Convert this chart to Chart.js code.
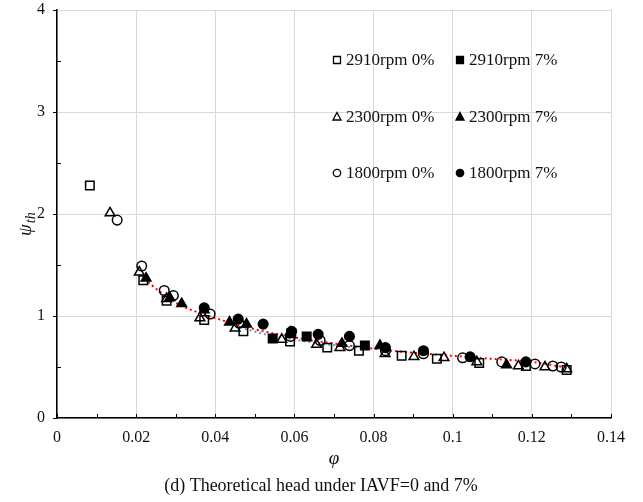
<!DOCTYPE html>
<html>
<head>
<meta charset="utf-8">
<script src="https://cdn.jsdelivr.net/npm/chart.js@4"></script>
<style>
  html, body { margin: 0; padding: 0; background: #fff; }
  #wrap { width: 643px; height: 502px; }
</style>
</head>
<body>
<div id="wrap"><canvas id="headChart" width="643" height="502"></canvas></div>
<script>
// datos (phi, psi_th)
const seriesNames = ['2910rpm 0%', '2910rpm 7%', '2300rpm 0%', '2300rpm 7%', '1800rpm 0%', '1800rpm 7%'];

const phi2910_0 = [0.0083, 0.0218, 0.0277, 0.0372, 0.0471, 0.0589, 0.0683, 0.0763, 0.0871, 0.0960, 0.1067, 0.1185, 0.1288];
const psi2910_0 = [2.28, 1.35, 1.15, 0.96, 0.85, 0.75, 0.69, 0.66, 0.61, 0.58, 0.54, 0.51, 0.47];

const phi2910_7 = [0.0545, 0.0592, 0.0631, 0.0778];
const psi2910_7 = [0.78, 0.83, 0.80, 0.71];

const phi2300_0 = [0.0134, 0.0208, 0.0277, 0.0361, 0.0450, 0.0568, 0.0656, 0.0715, 0.0829, 0.0902, 0.0978, 0.1061, 0.1166, 0.1233, 0.1288];
const psi2300_0 = [2.01, 1.43, 1.17, 0.98, 0.88, 0.77, 0.72, 0.69, 0.63, 0.60, 0.59, 0.55, 0.51, 0.50, 0.48];

const phi2300_7 = [0.0225, 0.0285, 0.0315, 0.0372, 0.0436, 0.0479, 0.0589, 0.0720, 0.0816, 0.1136];
const psi2300_7 = [1.37, 1.18, 1.12, 1.06, 0.94, 0.92, 0.84, 0.73, 0.71, 0.52];

const phi1800_0 = [0.0152, 0.0214, 0.0271, 0.0294, 0.0387, 0.0460, 0.0590, 0.0665, 0.0739, 0.0830, 0.0926, 0.1025, 0.1124, 0.1208, 0.1253, 0.1274];
const psi1800_0 = [1.94, 1.49, 1.25, 1.20, 1.02, 0.93, 0.80, 0.76, 0.71, 0.66, 0.63, 0.59, 0.55, 0.53, 0.51, 0.50];

const phi1800_7 = [0.0372, 0.0458, 0.0521, 0.0593, 0.0660, 0.0739, 0.0830, 0.0926, 0.1044, 0.1185];
const psi1800_7 = [1.08, 0.97, 0.92, 0.85, 0.82, 0.80, 0.69, 0.66, 0.60, 0.55];

// líneas de tendencia punteadas
const trendRedPhi = [0.022, 0.030, 0.040, 0.050, 0.060, 0.070, 0.080, 0.090, 0.100, 0.110, 0.120, 0.128];
const trendRedPsi = [1.36, 1.13, 0.98, 0.87, 0.79, 0.73, 0.68, 0.64, 0.61, 0.58, 0.55, 0.50];
const trendBluePhi = [0.045, 0.055, 0.065, 0.075];
const trendBluePsi = [0.90, 0.80, 0.74, 0.69];

const xTicks = [0, 0.02, 0.04, 0.06, 0.08, 0.1, 0.12, 0.14];
const yTicks = [0, 1, 2, 3, 4];

const SERIF = '"Liberation Serif", "Times New Roman", serif';
const toPts = (xs, ys) => xs.map((x, i) => ({ x: x, y: ys[i] }));

function markerSet(label, xs, ys, style, filled) {
    return {
        type: 'scatter',
        label: label,
        data: toPts(xs, ys),
        pointStyle: style,
        pointRadius: style === 'circle' ? 4.8 : (style === 'triangle' ? 5.6 : 6),
        pointBorderWidth: 1.5,
        pointBorderColor: '#000',
        pointBackgroundColor: filled ? '#000' : 'rgba(255,255,255,0)',
        showLine: false
    };
}

function trendSet(xs, ys, color) {
    return {
        type: 'line',
        label: '',
        data: toPts(xs, ys),
        borderColor: color,
        borderWidth: 2,
        borderDash: [2, 3],
        pointRadius: 0,
        cubicInterpolationMode: 'monotone',
        fill: false
    };
}

// texto extra: títulos de ejes, pie de figura, leyenda y marcas
const extrasPlugin = {
    id: 'extras',
    afterDraw(chart) {
        const c = chart.ctx;
        const area = chart.chartArea;
        const xs = chart.scales.x, ys = chart.scales.y;
        c.save();

        // marcas de los ejes
        c.strokeStyle = '#000';
        c.lineWidth = 1;
        for (let v = 0; v <= 0.1401; v += 0.01) {
            const px = Math.round(xs.getPixelForValue(v)) + 0.5;
            c.beginPath(); c.moveTo(px, area.bottom); c.lineTo(px, area.bottom - 4); c.stroke();
        }
        for (let v = 0; v <= 4.001; v += 0.5) {
            const py = Math.round(ys.getPixelForValue(v)) + 0.5;
            c.beginPath();
            if (Math.abs(v - Math.round(v)) < 1e-6) { c.moveTo(area.left - 4, py); c.lineTo(area.left, py); }
            else { c.moveTo(area.left, py); c.lineTo(area.left + 4, py); }
            c.stroke();
        }

        // título eje y: psi_th
        c.fillStyle = '#111';
        c.translate(26, 222);
        c.rotate(-Math.PI / 2);
        c.textBaseline = 'alphabetic';
        c.textAlign = 'left';
        c.font = 'italic 19px ' + SERIF;
        const w = c.measureText('ψ').width;
        c.fillText('ψ', -14, 5);
        c.font = 'italic 14px ' + SERIF;
        c.fillText('th', -14 + w + 1, 9);
        c.setTransform(1, 0, 0, 1, 0, 0);

        // título eje x
        c.textAlign = 'center';
        c.textBaseline = 'middle';
        c.font = 'italic 19px ' + SERIF;
        c.fillText('φ', 334, 459);

        // pie de figura
        c.font = '18px ' + SERIF;
        c.fillText('(d) Theoretical head under IAVF=0 and 7%', 321, 486);

        // leyenda 2 columnas x 3 filas
        const cols = [337, 460];
        const rows = [60, 117, 173];
        c.textAlign = 'left';
        c.font = '17px ' + SERIF;
        seriesNames.forEach((name, i) => {
            const ds = chart.data.datasets[i];
            const filled = ds.pointBackgroundColor === '#000';
            const mx = cols[i % 2], my = rows[Math.floor(i / 2)];
            c.fillStyle = filled ? '#000' : '#fff';
            c.strokeStyle = '#000';
            c.lineWidth = 1.3;
            c.beginPath();
            if (ds.pointStyle === 'rect') { c.rect(mx - 3.5, my - 3.5, 7, 7); }
            else if (ds.pointStyle === 'circle') { c.arc(mx, my, 3.7, 0, Math.PI * 2); }
            else { c.moveTo(mx, my - 4.5); c.lineTo(mx + 4, my + 3); c.lineTo(mx - 4, my + 3); c.closePath(); }
            c.fill(); c.stroke();
            c.fillStyle = '#111';
            c.fillText(name, mx + 9, my + 1);
        });
        c.restore();
    }
};

const ctx = document.getElementById('headChart');

new Chart(ctx, {
    data: {
        datasets: [
            markerSet(seriesNames[0], phi2910_0, psi2910_0, 'rect', false),
            markerSet(seriesNames[1], phi2910_7, psi2910_7, 'rect', true),
            markerSet(seriesNames[2], phi2300_0, psi2300_0, 'triangle', false),
            markerSet(seriesNames[3], phi2300_7, psi2300_7, 'triangle', true),
            markerSet(seriesNames[4], phi1800_0, psi1800_0, 'circle', false),
            markerSet(seriesNames[5], phi1800_7, psi1800_7, 'circle', true),
            trendSet(trendBluePhi, trendBluePsi, '#5b9bd5'),
            trendSet(trendRedPhi, trendRedPsi, '#ff0000')
        ]
    },
    options: {
        responsive: false,
        animation: false,
        layout: { padding: { left: 0, top: 10, right: 32, bottom: 54 } },
        plugins: {
            legend: { display: false },
            tooltip: { enabled: false }
        },
        scales: {
            x: {
                type: 'linear',
                min: 0,
                max: 0.14,
                afterBuildTicks: (s) => { s.ticks = xTicks.map(v => ({ value: v })); },
                afterFit: (s) => { s.height = 30; s.paddingLeft = 0; s.paddingRight = 0; },
                grid: { color: '#d9d9d9', lineWidth: 1, drawTicks: false },
                border: { color: '#000', width: 1.5 },
                ticks: {
                    padding: 10,
                    color: '#111',
                    font: { family: SERIF, size: 16 },
                    maxRotation: 0,
                    callback: (v) => String(+Number(v).toFixed(2))
                }
            },
            y: {
                type: 'linear',
                min: 0,
                max: 4,
                afterBuildTicks: (s) => { s.ticks = yTicks.map(v => ({ value: v })); },
                afterFit: (s) => { s.width = 57; s.paddingTop = 0; s.paddingBottom = 0; },
                grid: { color: '#d9d9d9', lineWidth: 1, drawTicks: false },
                border: { color: '#000', width: 1.5 },
                ticks: {
                    padding: 12,
                    color: '#111',
                    font: { family: SERIF, size: 16 }
                }
            }
        }
    },
    plugins: [extrasPlugin]
});
</script>
</body>
</html>
